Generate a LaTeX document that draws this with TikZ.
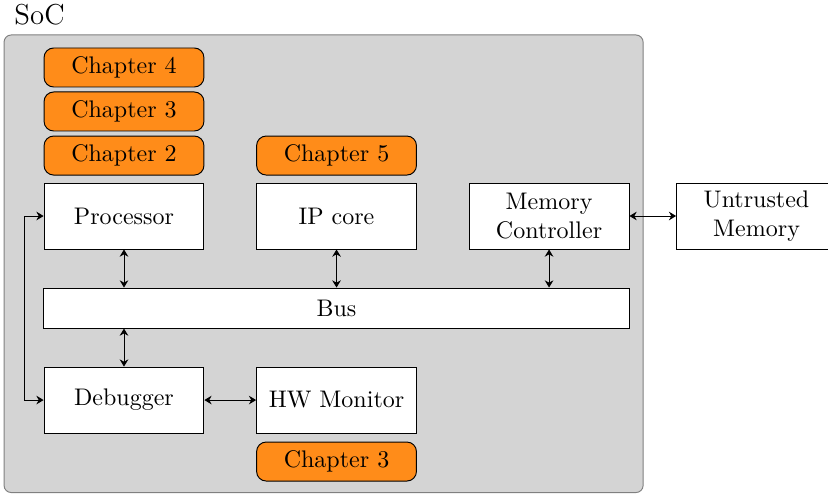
\documentclass[tikz,border=0pt]{standalone}
\usepackage{tikz}
\usetikzlibrary{arrows.meta,positioning,calc}

\begin{document}
\begin{tikzpicture}[
    block/.style={draw, fill=white, minimum width=2.34cm, minimum height=0.966cm, align=center, inner sep=1pt},
    chapter/.style={draw, fill=orange!90, rounded corners=4pt, minimum width=2.34cm, minimum height=0.571cm, inner sep=1pt},
    link/.style={{Stealth[length=3pt,width=3.6pt]}-{Stealth[length=3pt,width=3.6pt]}},
  ]
  \useasboundingbox (0,0) rectangle (12.12,-7.23);

  % SoC area
  \draw[gray, fill=black!17, rounded corners=3pt] (0.059,-0.512) rectangle (9.414,-7.21);
  \node[anchor=base west, inner sep=0pt, font=\large] (soclabel) at (0.205,-0.366) {SoC};

  % Blocks
  \node[block] (proc) at (1.815,-3.162) {Processor};
  \node[block] (ip)   at (4.926,-3.162) {IP core};
  \node[block] (mem)  at (8.037,-3.162) {Memory\\Controller};
  \node[block, anchor=west] (ext) at (9.897,-3.162) {Untrusted\\Memory};
  \node[block, minimum width=8.565cm, minimum height=0.586cm] (bus) at (4.926,-4.509) {Bus};
  \node[block] (dbg) at (1.815,-5.856) {Debugger};
  \node[block] (hwm) at (4.926,-5.856) {HW Monitor};

  % Chapters
  \node[chapter] (chfour)  at (1.815,-0.988) {Chapter 4};
  \node[chapter] (chthree) at (1.815,-1.632) {Chapter 3};
  \node[chapter] (chtwo)   at (1.815,-2.277) {Chapter 2};
  \node[chapter] (chfive)  at (4.926,-2.277) {Chapter 5};
  \node[chapter] (chmon)   at (4.926,-6.756) {Chapter 3};

  % Connections
  \draw[link] (proc.south) -- (proc.south |- bus.north);
  \draw[link] (ip.south) -- (ip.south |- bus.north);
  \draw[link] (mem.south) -- (mem.south |- bus.north);
  \draw[link] (bus.south -| dbg.north) -- (dbg.north);
  \draw[link] (dbg) -- (hwm);
  \draw[link] (mem) -- (ext);
  \draw[link] (proc.west) -- ++(-0.28,0) |- (dbg.west);
\end{tikzpicture}
\end{document}
